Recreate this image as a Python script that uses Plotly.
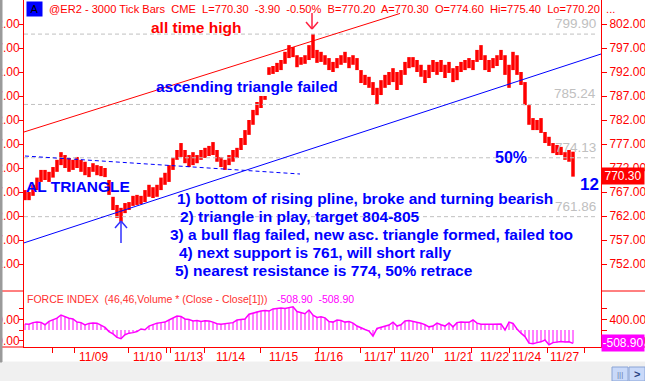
import plotly.graph_objects as go

# ---------------- data ----------------
bar_high = [767.4, 767.0, 768.5, 770.0, 771.6, 771.6, 771.2, 772.2, 773.7, 775.3,
            774.7, 774.1, 773.7, 774.3, 773.7, 773.3, 772.2, 773.0, 772.6, 772.4,
            772.0, 769.5, 766.0, 764.3, 763.7, 764.7, 764.9, 766.2, 766.4, 766.2,
            767.4, 768.5, 768.0, 768.5, 770.0, 771.0, 772.6, 774.1, 775.75, 777.2,
            775.75, 774.7, 775.3, 774.7, 775.75, 776.2, 776.6, 777.4, 775.75, 774.3,
            773.7, 774.7, 775.75, 776.2, 778.25, 779.9, 782.0, 784.1, 785.75, 787.0,
            787.0, 793.0, 793.25, 793.9, 794.5, 796.2, 797.6, 797.2, 795.5, 795.1,
            795.5, 797.6, 799.9, 796.6, 796.2, 795.5, 794.9, 794.1, 794.9, 795.5,
            796.2, 795.1, 795.5, 794.9, 792.4, 791.4, 791.0, 789.9, 788.7, 790.3,
            791.4, 792.0, 792.8, 792.0, 792.4, 794.1, 795.1, 795.1, 794.5, 793.5,
            792.4, 793.5, 794.5, 794.1, 794.5, 793.5, 794.1, 792.8, 793.25, 794.1,
            794.5, 794.9, 794.5, 796.6, 797.6, 795.5, 794.5, 794.9, 795.5, 796.6,
            795.5, 793.5, 796.2, 795.5, 792.0, 789.9, 785.1, 782.4, 782.0, 782.4,
            779.5, 778.5, 777.2, 776.8, 776.4, 775.3, 775.75, 775.4]
bar_low = [765.3, 765.3, 766.2, 767.4, 769.1, 769.5, 769.1, 770.0, 771.2, 772.6,
           772.0, 771.2, 771.6, 772.0, 771.2, 770.5, 770.1, 771.2, 770.5, 770.3,
           770.1, 766.4, 763.25, 761.6, 760.8, 762.6, 763.25, 764.1, 764.3, 764.5,
           764.9, 766.0, 765.75, 766.0, 767.4, 768.5, 769.1, 771.6, 773.7, 774.3,
           773.0, 772.2, 772.6, 773.0, 773.7, 774.1, 774.5, 774.7, 773.3, 772.2,
           771.6, 772.6, 773.3, 774.1, 775.75, 776.8, 778.9, 781.0, 783.0, 784.5,
           786.2, 791.4, 791.6, 792.0, 792.4, 793.7, 794.9, 795.1, 793.0, 793.5,
           793.7, 794.5, 794.9, 793.9, 794.1, 793.5, 792.4, 792.0, 792.8, 793.5,
           793.9, 792.8, 793.5, 792.4, 789.7, 789.3, 788.7, 787.2, 785.3, 787.2,
           788.7, 789.3, 789.9, 788.25, 789.3, 791.4, 792.8, 793.0, 792.0, 791.0,
           789.7, 790.75, 792.0, 791.4, 792.0, 790.75, 791.8, 789.9, 790.3, 792.0,
           792.4, 792.8, 792.4, 794.1, 794.5, 792.4, 792.0, 792.8, 793.25, 794.5,
           791.4, 788.7, 792.4, 791.4, 789.3, 785.1, 781.0, 779.9, 779.9, 779.3,
           777.2, 776.6, 775.1, 774.7, 774.7, 773.7, 773.3, 770.2]
force_index = [230, 220, 280, 300, 290, 200, 330, 380, 450, 570,
               500, 450, 420, 300, 280, 190, 250, 270, 260, 180,
               100, -60, -150, -280, -330, -180, -120, -100, -60, 40,
               10, 150, 220, 260, 280, 300, 380, 450, 530, 510,
               420, 400, 340, 360, 320, 350, 340, 300, 240, 220,
               240, 250, 280, 380, 400, 420, 600, 640, 700, 720,
               740, 720, 800, 820, 840, 820, 850, 880, 700, 660,
               620, 760, 560, 480, 500, 460, 320, 300, 380, 360,
               300, 320, 260, 150, 100, 20, -40, -230, 60, 110,
               150, 190, 300, 150, 200, 340, 360, 330, 300, 260,
               200, 120, 150, 260, 200, 150, 270, 120, 280, 300,
               290, 290, 380, 260, 220, 230, 220, 220, 230, 230,
               0, 300, 250, 40, -120, -250, -500, -520, -480, -450,
               -380, -560, -480, -470, -440, -460, -450, -508.9]
price_ticks = [752, 757, 762, 767, 772, 777, 782, 787, 792, 797, 802]
force_ticks = [-400, 0, 400, 800]
force_tick_text = ["-400.00", "", "400.00", ""]
date_labels = ["11/09", "11/10", "11/13", "11/14", "11/15", "11/16",
               "11/17", "11/20", "11/21", "11/22", "11/24", "11/27"]
date_label_bar = [13.0, 26.5, 36.75, 47.25, 60.5, 71.75, 84.25, 93.25,
                  104.25, 113.25, 121.25, 130.75]
date_tick_bar = [6.75, 12.25, 25.75, 35.25, 36.25, 44.75, 58.75, 73.25,
                 83.75, 92.25, 101.75, 111.5, 121, 130.5, 139.75]
level_values = [799.90, 785.24, 774.13, 761.86]
last_price = 770.30
last_force = -508.90
header_text = ("@ER2 - 3000 Tick Bars&nbsp; CME&nbsp; L=770.30&nbsp; -3.90&nbsp; -0.50%&nbsp; "
               "B=770.20&nbsp; A=770.30&nbsp; O=774.60&nbsp; Hi=775.40&nbsp; Lo=770.20&nbsp; ...")
notes = ["1) bottom of rising pline, broke and turning bearish",
         "2) triangle in play, target 804-805",
         "3) a bull flag failed, new asc. triangle formed, failed too",
         "4) next support is 761, will short rally",
         "5) nearest resistance is 774, 50% retrace"]

# ---------------- geometry ----------------
W, H = 645, 381
L, R, T, B = 24, 44, 0, 34
PW, PH = W - L - R, H - T - B
SPLIT = (347 - 291) / PH
FONT = "Liberation Sans, Arial, sans-serif"
RED = "#ff0000"
BLUE = "#0000ff"
MAG = "#ff00ff"
GRAY = "#c0c0c0"


def px(x):
    return (x - L) / PW


def py(y):
    return (347 - y) / PH


n = len(bar_high)
idx = list(range(n))

px_x, px_y = [], []
for i in idx:
    px_x += [i, i, None]
    px_y += [bar_low[i], bar_high[i], None]

fx, fy = [], []
for i in idx:
    fx += [i, i, None]
    fy += [0, force_index[i], None]

fig = go.Figure()
fig.add_trace(go.Scatter(x=px_x, y=px_y, mode="lines", line=dict(color=RED, width=3.5),
                         xaxis="x", yaxis="y", hoverinfo="skip", showlegend=False))
fig.add_trace(go.Scatter(x=fx, y=fy, mode="lines", line=dict(color=MAG, width=1),
                         xaxis="x", yaxis="y2", hoverinfo="skip", showlegend=False))
fig.add_trace(go.Scatter(x=idx, y=force_index, mode="lines", line=dict(color=MAG, width=1.5),
                         xaxis="x", yaxis="y2", hoverinfo="skip", showlegend=False))
# invisible copies so the right-hand axes get drawn
fig.add_trace(go.Scatter(x=[n - 1], y=[last_price], mode="markers", opacity=0,
                         xaxis="x", yaxis="y3", hoverinfo="skip", showlegend=False))
fig.add_trace(go.Scatter(x=[n - 1], y=[last_force], mode="markers", opacity=0,
                         xaxis="x", yaxis="y4", hoverinfo="skip", showlegend=False))

price_range = [802 - 267 / 4.8, 802 + 24 / 4.8]
force_range = [-(347 - 330) * 38, (330 - 291) * 38]
tickfont = dict(family=FONT, size=12, color=RED)

common = dict(showgrid=False, zeroline=False, showline=True, linecolor=RED, linewidth=1,
              ticks="outside", ticklen=5, tickcolor=RED, tickfont=tickfont, automargin=False,
              fixedrange=True)
left_extra = dict(ticklen=4, ticklabelstandoff=-3)

fig.update_layout(
    width=W, height=H, margin=dict(l=L, r=R, t=T, b=B),
    paper_bgcolor="white", plot_bgcolor="white", template="none",
    showlegend=False, hovermode=False,
    xaxis=dict(range=[-0.25, 144], anchor="y2", showgrid=False, zeroline=False,
               showline=True, linecolor=RED, linewidth=1,
               tickvals=date_tick_bar, ticks="outside", ticklen=5, tickcolor=RED,
               showticklabels=False, automargin=False, fixedrange=True),
    yaxis=dict(domain=[SPLIT, 1], range=price_range, tickvals=price_ticks,
               tickformat=".2f", **{**common, **left_extra}),
    yaxis2=dict(domain=[0, SPLIT], range=force_range, tickvals=force_ticks,
                ticktext=force_tick_text, **{**common, **left_extra}),
    yaxis3=dict(overlaying="y", side="right", anchor="x", range=price_range,
                tickvals=price_ticks, tickformat=".2f", **common),
    yaxis4=dict(overlaying="y2", side="right", anchor="x", range=force_range,
                tickvals=force_ticks, ticktext=force_tick_text, **common),
)

shapes = []
for v in level_values:
    shapes.append(dict(type="line", xref="x", yref="y", x0=-0.25, x1=143.25, y0=v, y1=v,
                       line=dict(color=GRAY, width=1, dash="4px,3px")))
shapes.append(dict(type="line", xref="x", yref="y", x0=-0.25, y0=779.5, x1=93.75, y1=804.2,
                   line=dict(color=RED, width=1)))
shapes.append(dict(type="line", xref="x", yref="y", x0=-0.25, y0=756.4, x1=144, y1=795.75,
                   line=dict(color=BLUE, width=1)))
shapes.append(dict(type="line", xref="x", yref="y", x0=0, y0=774.5, x1=68.75, y1=770.75,
                   line=dict(color=BLUE, width=1, dash="4px,3px")))


def pline(x0, y0, x1, y1, color, width=1):
    shapes.append(dict(type="line", xref="paper", yref="paper", x0=px(x0), y0=py(y0),
                       x1=px(x1), y1=py(y1), line=dict(color=color, width=width)))


def prect(x0, y0, x1, y1, fill, line=None):
    shapes.append(dict(type="rect", xref="paper", yref="paper", x0=px(x0), y0=py(y0),
                       x1=px(x1), y1=py(y1), fillcolor=fill, layer="above",
                       line=dict(color=line or fill, width=1)))


pline(312, 13, 312, 29, "#ff2040", 1.5)
pline(306, 22, 312, 29, "#ff2040", 1.5)
pline(318, 22, 312, 29, "#ff2040", 1.5)
pline(121, 221, 121, 243, "#3030ff", 1.5)
pline(115, 228, 121, 221, "#3030ff", 1.5)
pline(127, 228, 121, 221, "#3030ff", 1.5)
pline(0, 291, 24, 291, RED)
pline(601, 291, 645, 291, RED)
pline(0, 347, 24, 347, RED)
pline(601, 347, 645, 347, RED)
prect(0, 362, 645, 381, "#f0f0f0")
prect(0, 0, 2, 362, "#9a9a9a")
prect(612, 367, 628, 381, "#c9d9f9", "#8aa4d6")
prect(629, 367, 645, 381, "#c9d9f9", "#8aa4d6")
fig.update_layout(shapes=shapes)

ann = []


def ptext(x, y, text, size, color, bold=False, xanchor="left", bg=None, **kw):
    t = f"<b>{text}</b>" if bold else text
    d = dict(xref="paper", yref="paper", x=px(x), y=py(y), text=t, showarrow=False,
             xanchor=xanchor, yanchor="middle", font=dict(family=FONT, size=size, color=color))
    if bg:
        d["bgcolor"] = bg
    d.update(kw)
    ann.append(d)


ptext(26, 9, "A", 11, "black", bg="#0000ff", borderpad=1, width=13)
ptext(47, 9, header_text, 11.1, RED)
ptext(149, 28, "all time high", 15.5, RED, bold=True)
ptext(154, 86, "ascending triangle failed", 15.5, BLUE, bold=True)
ptext(24, 186, "AL TRIANGLE", 15.5, BLUE, bold=True)
ptext(493, 157, "50%", 16, BLUE, bold=True)
ptext(578, 184, "12", 17, BLUE, bold=True)
note_x = [175, 178, 168, 177, 173]
for k, t in enumerate(notes):
    ptext(note_x[k], 198 + 18 * k, t, 15.5, BLUE, bold=True)
for v in level_values:
    ann.append(dict(xref="x", yref="y", x=143.25, y=v, text=f"{v:.2f}", showarrow=False,
                    xanchor="right", yanchor="bottom", yshift=1,
                    font=dict(family=FONT, size=13.5, color=GRAY)))
ptext(25, 299, "FORCE INDEX&nbsp; (46,46,Volume * (Close - Close[1]))", 10.5, "#ff3030")
ptext(275, 299, f"{last_force:.2f}&nbsp; {last_force:.2f}", 10.5, MAG)
ann.append(dict(xref="paper", yref="y", x=px(601), y=last_price, text=f"{last_price:.2f}",
                showarrow=False, xanchor="left", yanchor="middle", bgcolor=RED,
                width=40, borderpad=1, font=dict(family=FONT, size=12, color="white")))
ann.append(dict(xref="paper", yref="y2", x=px(601), y=last_force, text=f"{last_force:.2f}",
                showarrow=False, xanchor="left", yanchor="middle", bgcolor=MAG,
                width=40, borderpad=1, font=dict(family=FONT, size=12, color="white")))
for lab, b in zip(date_labels, date_label_bar):
    ann.append(dict(xref="x", yref="paper", x=b, y=py(357), text=lab, showarrow=False,
                    xanchor="left", yanchor="middle",
                    font=dict(family=FONT, size=12, color=RED)))
ptext(620, 374, "|||", 8, "#6a7fb0", xanchor="center")
ptext(637, 374, "<b>&gt;</b>", 11, "#2a3f80", xanchor="center")
fig.update_layout(annotations=ann)

fig.write_html("out.html", config={"displayModeBar": False, "staticPlot": True},
               post_script="document.body.style.margin='0px';document.body.style.overflow='hidden';")
